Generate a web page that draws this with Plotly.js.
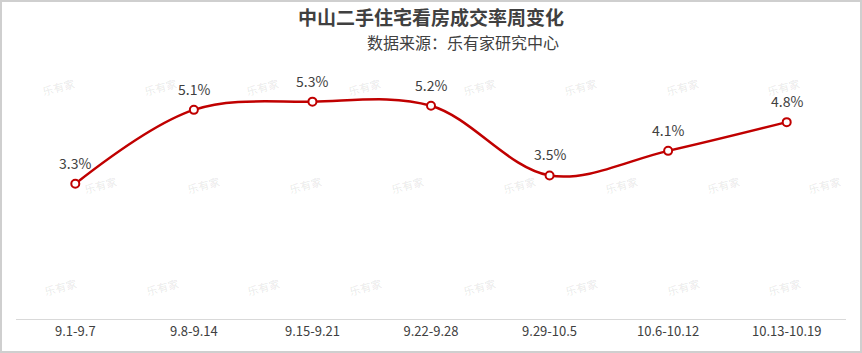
<!DOCTYPE html>
<html>
<head>
<meta charset="utf-8">
<script src="https://cdn.plot.ly/plotly-3.0.1.min.js"></script>
<style>
html,body{margin:0;padding:0;background:#fff;}
#wrap{position:relative;width:862px;height:353px;}
#chart{width:862px;height:353px;}
#frame{position:absolute;left:0;top:0;width:858px;height:349px;border:2px solid #cfcfcf;pointer-events:none;}
</style>
</head>
<body>
<div id="wrap"><div id="chart"></div><div id="frame"></div></div>
<script>
const categories = ["9.1-9.7","9.8-9.14","9.15-9.21","9.22-9.28","9.29-10.5","10.6-10.12","10.13-10.19"];
const rates = [3.3, 5.1, 5.3, 5.2, 3.5, 4.1, 4.8];
const labels = rates.map(v => v.toFixed(1) + "%");
const titleText = "中山二手住宅看房成交率周变化";
const sourceText = "数据来源：乐有家研究中心";

const FONT = "'Microsoft YaHei','Noto Sans CJK SC','Noto Sans',sans-serif";
const W = 862, H = 353, L = 16, R = 16, T = 75, B = 34;
const pw = W - L - R, ph = H - T - B;
const px = x => (x - L) / pw;
const py = y => (H - B - y) / ph;

const annotations = [{
  text: sourceText, xref: "paper", yref: "paper",
  x: px(561), y: py(42), xanchor: "right", yanchor: "middle",
  showarrow: false, font: {family: FONT, size: 16, color: "#404040"}
}];
// faint watermarks
const wmRows = [
  {y: 87, xs: [58,160,262,364,479,580,682,783]},
  {y: 185, xs: [100,203,305,407,519,621,723,824]},
  {y: 287, xs: [60,162,263,365,479,581,683,784]}
];
wmRows.forEach(r => r.xs.forEach(x => annotations.push({
  text: "<b>乐有家</b>", xref: "paper", yref: "paper", x: px(x), y: py(r.y),
  xanchor: "center", yanchor: "middle", showarrow: false, textangle: -15,
  font: {family: FONT, size: 11, color: "rgba(0,0,0,0.07)"}
})));
// data labels
categories.forEach((c, i) => annotations.push({
  text: labels[i], x: c, y: rates[i], xref: "x", yref: "y",
  xanchor: "center", yanchor: "middle", yshift: 21, showarrow: false,
  font: {family: FONT, size: 14, color: "#404040"}
}));

const trace = {
  type: "scatter", mode: "lines+markers",
  x: categories, y: rates,
  line: {color: "#c00000", width: 2.5, shape: "spline", smoothing: 1},
  marker: {symbol: "circle", size: 8, color: "#ffffff", line: {color: "#c00000", width: 2}},
  cliponaxis: false, hoverinfo: "skip"
};

const layout = {
  width: W, height: H,
  margin: {l: L, r: R, t: T, b: B, pad: 0},
  paper_bgcolor: "#ffffff", plot_bgcolor: "#ffffff",
  showlegend: false,
  title: {text: "<b>" + titleText + "</b>", font: {family: FONT, size: 19, color: "#404040"},
          x: 0.5, xref: "container", xanchor: "center", y: 1 - 18 / H, yref: "container", yanchor: "middle"},
  xaxis: {type: "category", showline: true, linecolor: "#d9d9d9", linewidth: 1,
          showgrid: false, zeroline: false, ticks: "", ticklen: 0,
          tickfont: {family: FONT, size: 13, color: "#404040"}, range: [-0.5, 6.5], fixedrange: true},
  yaxis: {range: [0, 5.95], visible: false, showgrid: false, zeroline: false, fixedrange: true},
  annotations: annotations,
  font: {family: FONT}
};

Plotly.newPlot("chart", [trace], layout, {displayModeBar: false, staticPlot: true});
</script>
</body>
</html>
